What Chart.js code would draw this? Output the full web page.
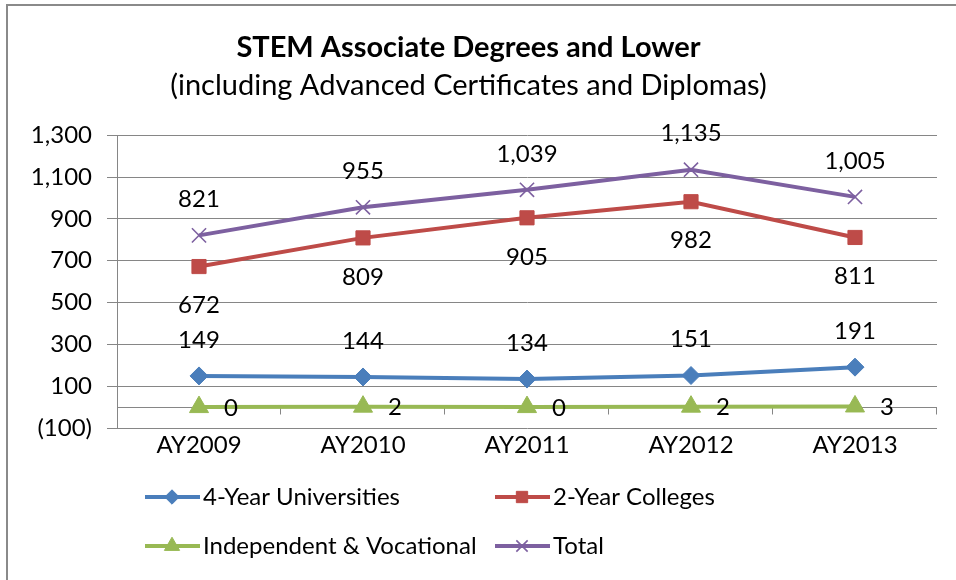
<!DOCTYPE html>
<html>
<head>
<meta charset="utf-8">
<title>STEM Associate Degrees and Lower</title>
<script src="https://cdn.jsdelivr.net/npm/chart.js@4.4.1/dist/chart.umd.min.js"></script>
<style>
  html, body { margin: 0; padding: 0; background: #fff; }
  #wrap { width: 956px; height: 580px; position: relative; }
</style>
</head>
<body>
<div id="wrap"><canvas id="myChart"></canvas></div>
<script>
"use strict"

const years = ["AY2009", "AY2010", "AY2011", "AY2012", "AY2013"];
const fourYearUniversities = [149, 144, 134, 151, 191];
const twoYearColleges = [672, 809, 905, 982, 811];
const independentVocational = [0, 2, 0, 2, 3];
const total = [821, 955, 1039, 1135, 1005];
const yTicks = [-100, 100, 300, 500, 700, 900, 1100, 1300];

const gridGray = "#868686";
const fontName = "Lato";
const textSize = 24;

document.addEventListener("DOMContentLoaded", init);

function formatNumber(v){
    if (v < 0) return "(" + Math.abs(v).toLocaleString("en-US") + ")";
    return v.toLocaleString("en-US");
}

// white background + the gray frame of the chart object
const frame = {
    id: "frame",
    beforeDraw(chart){
        const ctx = chart.ctx;
        ctx.save();
        ctx.fillStyle = "#fff";
        ctx.fillRect(0, 0, chart.width, chart.height);
        ctx.strokeStyle = "#8a8a8a";
        ctx.lineWidth = 2;
        ctx.beginPath();
        ctx.moveTo(7, chart.height);
        ctx.lineTo(7, 5);
        ctx.lineTo(chart.width, 5);
        ctx.stroke();
        ctx.restore();
    }
};

// category axis crosses at zero, with tick marks between categories
const zeroAxis = {
    id: "zeroAxis",
    beforeDatasetsDraw(chart){
        const {ctx, chartArea, scales} = chart;
        const y0 = Math.round(scales.y.getPixelForValue(0)) + 0.5;
        const n = chart.data.labels.length;
        ctx.save();
        ctx.strokeStyle = gridGray;
        ctx.lineWidth = 1;
        ctx.beginPath();
        ctx.moveTo(chartArea.left, y0);
        ctx.lineTo(chartArea.right, y0);
        for (let k = 1; k <= n; k++){
            const x = Math.round(chartArea.left + (chartArea.right - chartArea.left) * k / n) - 0.5;
            ctx.moveTo(x, y0);
            ctx.lineTo(x, y0 + 7);
        }
        ctx.stroke();
        ctx.restore();
    }
};

const dataLabels = {
    id: "dataLabels",
    afterDatasetsDraw(chart){
        const ctx = chart.ctx;
        ctx.save();
        ctx.font = textSize + "px " + fontName;
        ctx.fillStyle = "#000";
        ctx.textBaseline = "middle";
        chart.data.datasets.forEach((ds, i) => {
            const meta = chart.getDatasetMeta(i);
            meta.data.forEach((pt, j) => {
                const text = formatNumber(ds.data[j]);
                let x = pt.x, y = pt.y;
                if (ds.labelPos === "above"){
                    y -= 36; ctx.textAlign = "center";
                } else if (ds.labelPos === "below"){
                    y += 39; ctx.textAlign = "center";
                } else {
                    x += 25; y += 1; ctx.textAlign = "left";
                }
                ctx.fillText(text, x, y);
            });
        });
        ctx.restore();
    }
};

// two column legend under the plot
const legendGrid = {
    id: "legendGrid",
    afterDraw(chart){
        const ctx = chart.ctx;
        const cols = [145, 495];
        const rows = [497, 546];
        chart.data.datasets.forEach((ds, i) => {
            const x = cols[i % 2];
            const y = rows[Math.floor(i / 2)];
            ctx.save();
            ctx.strokeStyle = ds.borderColor;
            ctx.lineWidth = 4;
            ctx.beginPath();
            ctx.moveTo(x, y);
            ctx.lineTo(x + 55, y);
            ctx.stroke();
            ctx.fillStyle = ds.pointBackgroundColor;
            ctx.strokeStyle = ds.pointBorderColor;
            ctx.lineWidth = ds.pointBorderWidth;
            Chart.helpers.drawPoint(ctx, {
                pointStyle: ds.pointStyle,
                radius: ds.pointRadius * 0.8,
                borderWidth: ds.pointBorderWidth,
                rotation: 0
            }, x + 27, y);
            ctx.fillStyle = "#000";
            ctx.font = textSize + "px " + fontName;
            ctx.textAlign = "left";
            ctx.textBaseline = "middle";
            ctx.fillText(ds.label, x + 58, y);
            ctx.restore();
        });
    }
};

function makeSeries(label, data, color, style, radius, labelPos){
    return {
        label: label,
        data: data,
        borderColor: color,
        backgroundColor: color,
        borderWidth: 4,
        pointStyle: style,
        pointRadius: radius,
        pointHoverRadius: radius,
        pointBackgroundColor: color,
        pointBorderColor: color,
        pointBorderWidth: style === "crossRot" ? 1.6 : 1,
        tension: 0,
        labelPos: labelPos
    };
}

function init(){
    Chart.defaults.font.family = fontName;
    Chart.defaults.color = "#000";
    const ctx = document.getElementById('myChart').getContext('2d');
    const myChart = new Chart(ctx, {
        type: 'line',
        data: {
            labels: years,
            datasets: [
                makeSeries("4-Year Universities", fourYearUniversities, "#4A7EBB", "rectRot", 9, "above"),
                makeSeries("2-Year Colleges", twoYearColleges, "#BE4B48", "rect", 10, "below"),
                makeSeries("Independent & Vocational", independentVocational, "#98B954", "triangle", 11, "right"),
                makeSeries("Total", total, "#7D60A0", "crossRot", 10, "above")
            ]
        },
        plugins: [frame, zeroAxis, dataLabels, legendGrid],
        options: {
            responsive: true,
            maintainAspectRatio: false,
            animation: false,
            layout: {
                padding: { top: 20, left: 0, right: 19, bottom: 112 }
            },
            plugins: {
                legend: { display: false },
                tooltip: { enabled: false },
                title: {
                    display: true,
                    text: "STEM Associate Degrees and Lower",
                    color: "#000",
                    font: { size: 29, weight: "bold" },
                    padding: { top: 10, bottom: 2 }
                },
                subtitle: {
                    display: true,
                    text: "(including Advanced Certificates and Diplomas)",
                    color: "#000",
                    font: { size: 29, weight: "normal" },
                    padding: { top: 1, bottom: 32.6 }
                }
            },
            scales: {
                x: {
                    offset: true,
                    grid: { display: false, drawTicks: false },
                    border: { display: false },
                    ticks: { font: { size: textSize }, color: "#000", padding: 3 },
                    afterFit(scale){ scale.height = 40; }
                },
                y: {
                    min: -100,
                    max: 1300,
                    afterBuildTicks(scale){
                        scale.ticks = yTicks.map(v => ({ value: v }));
                    },
                    grid: { color: gridGray, tickLength: 10 },
                    border: { display: true, color: gridGray },
                    ticks: {
                        font: { size: textSize },
                        color: "#000",
                        padding: 15,
                        callback: v => formatNumber(v)
                    },
                    afterFit(scale){ scale.width = 117; }
                }
            }
        }
    });
}
</script>
</body>
</html>
